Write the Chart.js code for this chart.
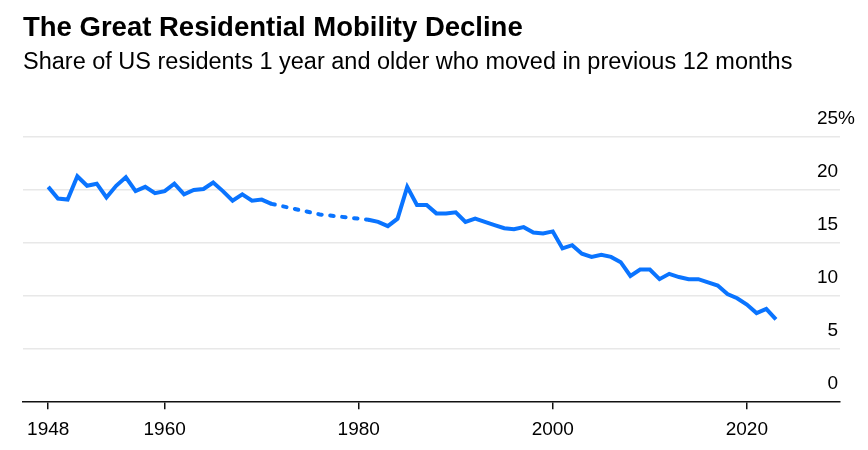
<!DOCTYPE html>
<html>
<head>
<meta charset="utf-8">
<script src="https://cdn.jsdelivr.net/npm/chart.js@4.4.1/dist/chart.umd.min.js"></script>
<style>
  html, body { margin: 0; padding: 0; background: #fff; }
  #wrap { position: relative; width: 868px; height: 450px; font-family: 'Liberation Sans', Arial, Helvetica, sans-serif; color: #000; }
  #wrap canvas { position: absolute; left: 0; top: 0; }
  .title { position: absolute; left: 23px; top: 13px; font-size: 27.5px; font-weight: bold; line-height: 27px; white-space: nowrap; }
  .subtitle { position: absolute; left: 23px; top: 50px; font-size: 23.5px; line-height: 23.5px; white-space: nowrap; }
</style>
</head>
<body>
<div id="wrap">
  <canvas id="chart-mobility"></canvas>
  <div class="title">The Great Residential Mobility Decline</div>
  <div class="subtitle">Share of US residents 1 year and older who moved in previous 12 months</div>
</div>
<script>
/* ============================
   DATA
   ============================ */
// 1972-1980 are missing from the annual survey, the gap is drawn dotted via 1976
const years = [
  1948,1949,1950,1951,1952,1953,1954,1955,1956,1957,1958,1959,
  1960,1961,1962,1963,1964,1965,1966,1967,1968,1969,1970,1971,
  1976,
  1981,1982,1983,1984,1985,1986,1987,1988,1989,1990,1991,1992,1993,1994,1995,1996,1997,1998,1999,
  2000,2001,2002,2003,2004,2005,2006,2007,2008,2009,2010,2011,2012,2013,2014,2015,2016,2017,2018,2019,
  2020,2021,2022,2023
];
const moverShare = [
  20.3,19.2,19.1,21.3,20.4,20.6,19.3,20.4,21.2,19.9,20.3,19.7,
  19.9,20.6,19.6,20.0,20.1,20.7,19.9,19.0,19.6,19.0,19.1,18.7,
  17.7,
  17.2,17.0,16.6,17.3,20.3,18.6,18.6,17.8,17.8,17.9,17.0,17.3,17.0,16.7,16.4,16.3,16.5,16.0,15.9,
  16.1,14.5,14.8,14.0,13.7,13.9,13.7,13.2,11.9,12.5,12.5,11.6,12.1,11.8,11.6,11.6,11.3,11.0,10.2,9.8,
  9.2,8.4,8.8,7.8
];
const gapStart = 1971;
const gapEnd = 1981;
const xTicks = [1948, 1960, 1980, 2000, 2020];
const yTicks = [0, 5, 10, 15, 20, 25];

const BLUE = '#0a74ff';
const FONT = "'Liberation Sans', Arial, Helvetica, sans-serif";

const inGap = ctx => ctx.p0.parsed.x >= gapStart && ctx.p1.parsed.x <= gapEnd;

const chartCtx = document.getElementById('chart-mobility');
new Chart(chartCtx, {
  type: 'line',
  data: {
    datasets: [{
      data: years.map((yr, i) => ({ x: yr, y: moverShare[i] })),
      borderColor: BLUE,
      borderWidth: 4,
      pointRadius: 0,
      tension: 0,
      fill: false,
      segment: {
        borderDash: ctx => inGap(ctx) ? [3.5, 8.5] : undefined,
        borderCapStyle: ctx => inGap(ctx) ? 'round' : undefined
      }
    }]
  },
  options: {
    responsive: true,
    maintainAspectRatio: false,
    animation: false,
    layout: { padding: { left: 23, right: 0, top: 137, bottom: 0 } },
    plugins: { legend: { display: false }, tooltip: { enabled: false } },
    scales: {
      x: {
        type: 'linear',
        min: 1945.4,
        max: 2029.6,
        afterBuildTicks: axis => { axis.ticks = xTicks.map(value => ({ value })); },
        border: { display: true, color: '#111', width: 1.5 },
        grid: { drawOnChartArea: false, drawTicks: true, tickLength: 7, color: '#111', lineWidth: 1.5 },
        ticks: {
          autoSkip: false, maxRotation: 0, padding: 9,
          color: '#000', font: { size: 19, family: FONT },
          callback: v => String(v)
        }
      },
      y: {
        position: 'right',
        min: 0,
        max: 25,
        afterBuildTicks: axis => { axis.ticks = yTicks.map(value => ({ value })); },
        afterFit: scale => { scale.width = 28; },
        border: { display: false },
        grid: {
          drawTicks: false,
          lineWidth: 1.5,
          color: ctx => ctx.tick && ctx.tick.value === 0 ? 'rgba(0,0,0,0)' : '#e8e8e8'
        },
        ticks: {
          mirror: true,
          crossAlign: 'far',
          padding: 15,
          labelOffset: -18,
          color: '#000',
          font: { size: 19, family: FONT },
          callback: v => v === 25 ? '25%' : (v < 10 ? '\u2007' + v : String(v))
        }
      }
    }
  }
});
</script>
</body>
</html>
